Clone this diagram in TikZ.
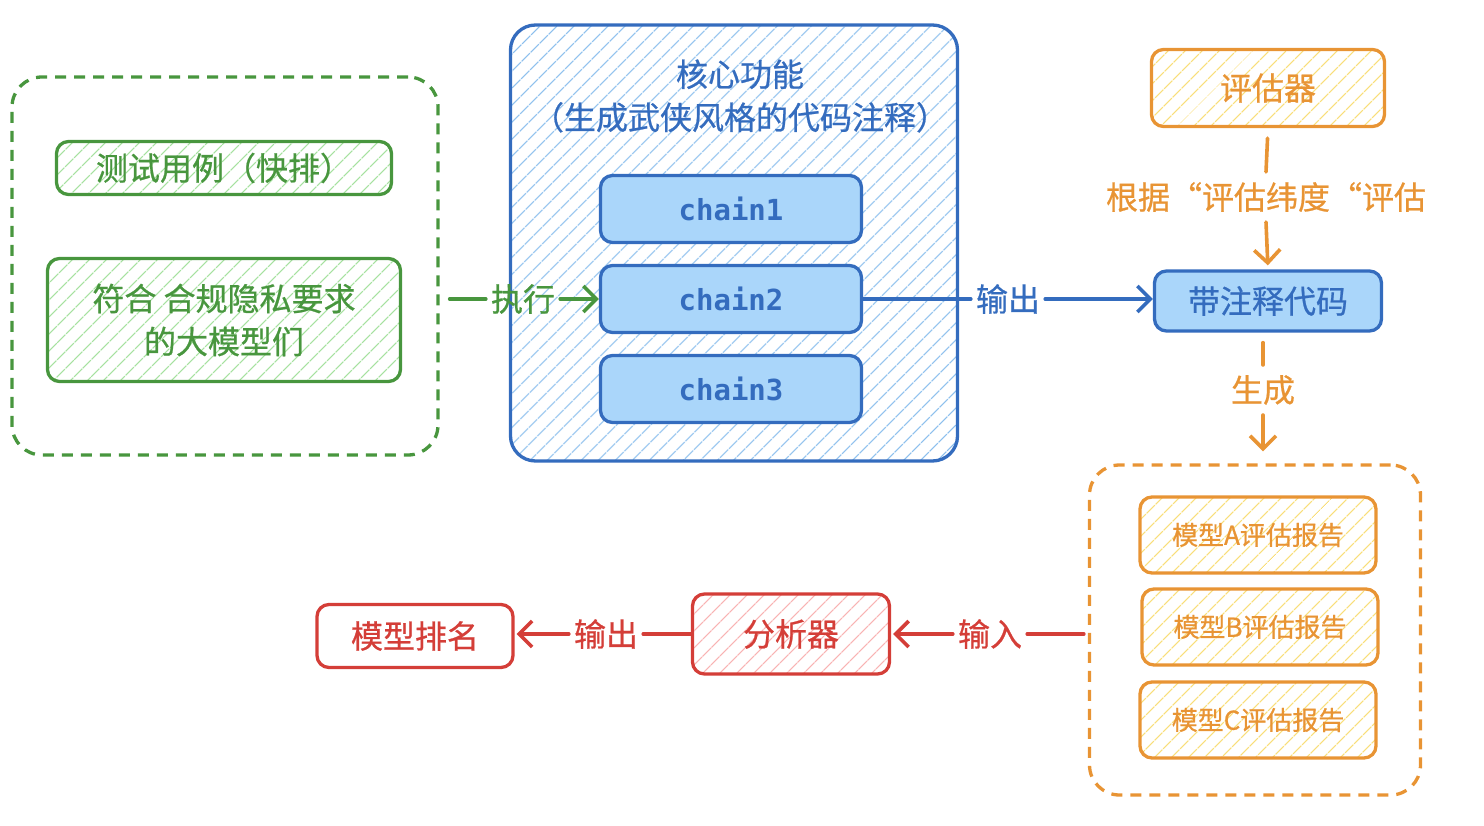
\documentclass[tikz,border=0pt]{standalone}
\usepackage{fontspec}
\newfontfamily\cjk[FakeBold=0.7]{Noto Sans CJK SC}
\newfontfamily\chainfont{DejaVu Sans Mono}
\usetikzlibrary{arrows.meta,patterns.meta}
\definecolor{grn}{RGB}{72,150,62}
\definecolor{grnhatch}{RGB}{165,225,158}
\definecolor{blu}{RGB}{52,108,190}
\definecolor{bluhatch}{RGB}{135,188,236}
\definecolor{blufill}{RGB}{170,214,250}
\definecolor{org}{RGB}{232,148,52}
\definecolor{orghatch}{RGB}{248,222,120}
\definecolor{rd}{RGB}{212,62,56}
\definecolor{rdhatch}{RGB}{248,178,178}

\begin{document}
\begin{tikzpicture}[x=1pt, y=-1pt,
    every node/.style={font=\cjk\fontsize{32}{43}\selectfont, inner sep=0pt},
    box/.style={draw, line width=3.3pt, rounded corners=12pt},
    hatch/.style={pattern={Lines[angle=45,distance=13pt,line width=1.4pt]}, pattern color=#1},
    groupbox/.style={draw, line width=3.3pt, rounded corners=30pt, dash pattern=on 11pt off 8pt},
    chainbox/.style={box, draw=blu, fill=blufill, text=blu, minimum width=261pt, minimum height=67pt,
        font=\chainfont\bfseries\fontsize{29}{36}\selectfont},
    report/.style={box, draw=org, hatch=orghatch, text=org, minimum width=236pt, minimum height=76pt,
        font=\cjk\fontsize{26}{30}\selectfont},
    lbl/.style={inner xsep=5pt, inner ysep=10pt},
    conn/.style={line width=3.6pt, line cap=round},
    tip/.style={-{Straight Barb[length=13pt,width=26pt]}}]
    \useasboundingbox (0,0) rectangle (1484,826);

    \node[groupbox, draw=grn, minimum width=426pt, minimum height=378pt] (group) at (225,266) {};
    \node[box, draw=grn, hatch=grnhatch, text=grn, minimum width=335pt, minimum height=53pt] (tests) at (224,168) {测试用例（快排）};
    \node[box, draw=grn, hatch=grnhatch, text=grn, minimum width=353pt, minimum height=123pt, align=center] (models) at (224,320) {符合\ 合规隐私要求\\的大模型们};

    \node[box, draw=blu, hatch=bluhatch, rounded corners=25pt, minimum width=447pt, minimum height=436pt] (core) at (734,243) {};
    \node[text=blu, align=center] (coretitle) at (740,96) {核心功能\\（生成武侠风格的代码注释）};
    \node[chainbox] (chain1) at (731,209) {chain1};
    \node[chainbox] (chain2) at (731,299) {chain2};
    \node[chainbox] (chain3) at (731,389) {chain3};

    \node[box, draw=org, hatch=orghatch, text=org, minimum width=233pt, minimum height=77pt] (evaluator) at (1268,88) {评估器};
    \node[box, draw=blu, fill=blufill, text=blu, minimum width=227pt, minimum height=60pt] (annotated) at (1268,301) {带注释代码};

    \node[groupbox, draw=org, minimum width=331pt, minimum height=330pt] (reports) at (1255,630) {};
    \node[report] (repA) at (1258,535) {模型A评估报告};
    \node[report] (repB) at (1260,627) {模型B评估报告};
    \node[report] (repC) at (1258,720) {模型C评估报告};

    \node[box, draw=rd, hatch=rdhatch, text=rd, minimum width=197pt, minimum height=80pt] (analyzer) at (791,634) {分析器};
    \node[box, draw=rd, fill=white, text=rd, minimum width=196pt, minimum height=63pt] (ranking) at (415,636) {模型排名};

    \node[lbl, text=grn] (runlbl) at (523,299) {执行};
    \draw[conn, draw=grn, shorten <=10pt] (group.east |- runlbl.west) -- (runlbl.west);
    \draw[conn, draw=grn, tip] (runlbl.east) -- (chain2.west);

    \node[lbl, text=blu] (outlbl) at (1008,299) {输出};
    \draw[conn, draw=blu] (chain2.east) -- (outlbl.west);
    \draw[conn, draw=blu, tip] (outlbl.east) -- (annotated.west |- outlbl.east);

    \node[lbl, text=org] (critlbl) at (1266,197) {根据“评估纬度“评估};
    \draw[conn, draw=org, shorten <=10pt] (evaluator.south) -- (critlbl.north);
    \draw[conn, draw=org, tip, shorten >=4pt] (critlbl.south) -- (annotated.north);

    \node[lbl, text=org] (genlbl) at (1263,390) {生成};
    \draw[conn, draw=org, shorten <=10pt] (genlbl.north |- annotated.south) -- (genlbl.north);
    \draw[conn, draw=org, tip, shorten >=12pt] (genlbl.south) -- (genlbl.south |- reports.north);

    \node[lbl, text=rd] (inlbl) at (990,634) {输入};
    \draw[conn, draw=rd, shorten <=4pt] (reports.west |- inlbl.east) -- (inlbl.east);
    \draw[conn, draw=rd, tip, shorten >=2pt] (inlbl.west) -- (analyzer.east);

    \node[lbl, text=rd] (out2lbl) at (606,634) {输出};
    \draw[conn, draw=rd] (analyzer.west) -- (out2lbl.east);
    \draw[conn, draw=rd, tip, shorten >=2pt] (out2lbl.west) -- (ranking.east |- out2lbl.west);
\end{tikzpicture}
\end{document}
